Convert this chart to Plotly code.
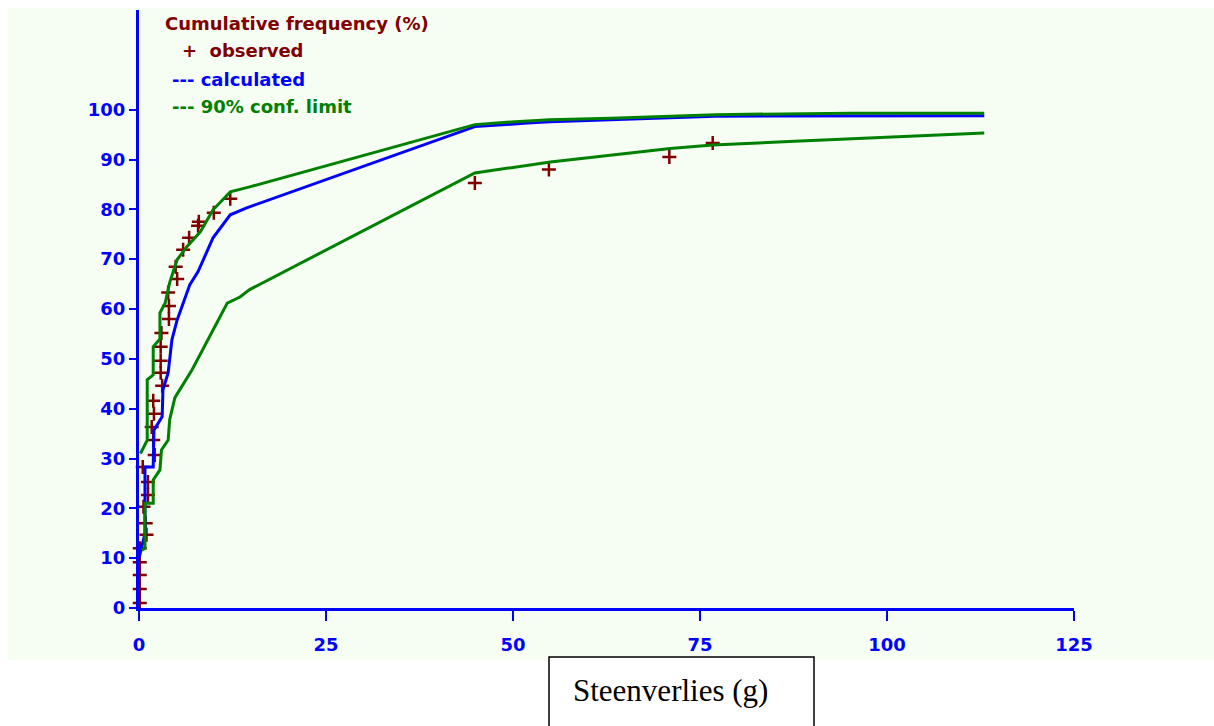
import plotly.graph_objects as go

# ---- data ----
obs_x = [0.1, 0.1, 0.1, 0.1, 0.1, 1.0, 0.9, 0.6, 1.2, 1.2, 0.5, 2.1, 1.9, 1.7, 2.0, 1.9,
         3.1, 2.9, 2.9, 2.9, 3.0, 4.0, 4.0, 3.9, 5.1, 4.9, 5.9, 6.7, 7.9, 8.0, 10.0, 12.2,
         44.9, 54.8, 70.9, 76.7]
obs_y = [1.0, 3.8, 6.6, 9.2, 12.0, 14.7, 17.0, 20.3, 22.7, 25.3, 28.3, 30.7, 33.7, 36.3, 39.0, 41.6,
         44.6, 47.2, 49.6, 52.4, 55.2, 58.0, 60.6, 63.3, 66.0, 68.5, 71.9, 74.3, 76.7, 77.5, 79.3, 82.1,
         85.3, 88.0, 90.5, 93.3]

calc_x = [0.0, 0.8, 0.8, 1.9, 2.0, 3.1, 3.2, 3.9, 4.4, 5.1, 6.8, 7.9, 9.9, 12.2, 14.4,
          44.9, 51.9, 55.0, 63.0, 71.0, 77.0, 113.0]
calc_y = [10.0, 15.0, 28.3, 28.3, 35.7, 38.4, 43.8, 47.2, 53.8, 57.8, 64.9, 67.5, 74.3, 78.9, 80.3,
          96.6, 97.3, 97.6, 98.0, 98.4, 98.7, 98.8]

upper_x = [0.2, 1.1, 1.1, 1.9, 1.9, 2.8, 2.8, 3.5, 4.1, 5.1, 6.4, 8.2, 9.9, 12.2, 14.8,
           44.9, 50.3, 54.9, 63.1, 71.1, 77.1, 95.2, 113.0]
upper_y = [31.0, 33.7, 45.8, 46.8, 52.4, 54.0, 59.2, 61.2, 65.3, 69.9, 72.5, 75.5, 79.9, 83.5, 84.5,
           97.0, 97.6, 98.0, 98.3, 98.7, 99.0, 99.3, 99.3]

lower_x = [0.4, 0.8, 0.8, 1.9, 1.9, 2.8, 3.0, 3.9, 4.1, 4.8, 7.1, 9.2, 11.8, 13.5, 14.8,
           44.9, 55.0, 71.0, 76.7, 88.4, 101.7, 113.0]
lower_y = [11.6, 12.0, 21.0, 21.0, 25.7, 27.7, 31.7, 33.7, 37.8, 42.2, 47.8, 53.8, 61.2, 62.4, 63.9,
           87.3, 89.5, 92.2, 92.9, 93.7, 94.6, 95.3]

x_ticks = [0, 25, 50, 75, 100, 125]
y_ticks = [0, 10, 20, 30, 40, 50, 60, 70, 80, 90, 100]

legend_title = "Cumulative frequency (%)"
legend_obs = "+  observed"
legend_calc = "--- calculated"
legend_conf = "--- 90% conf. limit"
x_title = "Steenverlies (g)"

RED = "#800000"
BLUE = "#0000FF"
GREEN = "#008000"
BG = "#F6FDF2"

W, H = 1214, 726
L, R, T, B = 139, 140, 10, 118
PW, PH = W - L - R, H - T - B


def px(x):
    return (x - L) / PW


def py(y):
    return (H - B - y) / PH


fig = go.Figure()

fig.add_trace(go.Scatter(
    x=obs_x, y=obs_y, mode="markers",
    marker=dict(symbol="cross-thin", size=10, line=dict(color=RED, width=2.5), color=RED),
    showlegend=False, cliponaxis=False))

fig.add_trace(go.Scatter(
    x=calc_x, y=calc_y, mode="lines",
    line=dict(color=BLUE, width=3), showlegend=False))

fig.add_trace(go.Scatter(
    x=upper_x, y=upper_y, mode="lines",
    line=dict(color=GREEN, width=3), showlegend=False))

fig.add_trace(go.Scatter(
    x=lower_x, y=lower_y, mode="lines",
    line=dict(color=GREEN, width=3), showlegend=False))

tickfont = dict(family="DejaVu Sans", size=18, color=BLUE, weight="bold")

fig.update_xaxes(
    range=[0, 125], tickvals=x_ticks, ticktext=[str(v) for v in x_ticks],
    showgrid=False, zeroline=False, showline=True, linecolor=BLUE, linewidth=3,
    ticks="outside", ticklen=10, tickwidth=2, tickcolor=BLUE,
    tickfont=tickfont, ticklabelstandoff=8, fixedrange=True)

fig.update_yaxes(
    range=[0, 120], tickvals=y_ticks, ticktext=[str(v) for v in y_ticks],
    showgrid=False, zeroline=False, showline=True, linecolor=BLUE, linewidth=3,
    ticks="outside", ticklen=7, tickwidth=2, tickcolor=BLUE,
    tickfont=tickfont, ticklabelstandoff=0, fixedrange=True)

lf = dict(family="DejaVu Sans", size=18, weight="bold")
annots = [
    (legend_title, 163, 24, RED),
    (legend_obs, 180, 51, RED),
    (legend_calc, 170, 79, BLUE),
    (legend_conf, 170, 106, GREEN),
]
for txt, x0, y0, col in annots:
    fig.add_annotation(text=txt, x=px(x0), y=py(y0), xref="paper", yref="paper",
                       xanchor="left", yanchor="middle", showarrow=False,
                       font=dict(color=col, **lf))

# background panel and axis-title box
fig.add_shape(type="rect", xref="paper", yref="paper",
              x0=px(8), x1=px(1214), y0=py(660), y1=py(8),
              fillcolor=BG, line=dict(width=0), layer="below")
fig.add_shape(type="rect", xref="paper", yref="paper",
              x0=px(549), x1=px(814), y0=py(740), y1=py(657),
              fillcolor="white", line=dict(color="black", width=1.5), layer="above")
fig.add_annotation(text=x_title, x=px(670), y=py(690), xref="paper", yref="paper",
                   xanchor="center", yanchor="middle", showarrow=False,
                   font=dict(family="Liberation Serif", size=31, color="black"))

fig.update_layout(
    width=W, height=H,
    margin=dict(l=L, r=R, t=T, b=B),
    paper_bgcolor="white", plot_bgcolor="rgba(0,0,0,0)",
    showlegend=False)

fig.write_html("out.html", config={"displayModeBar": False})
